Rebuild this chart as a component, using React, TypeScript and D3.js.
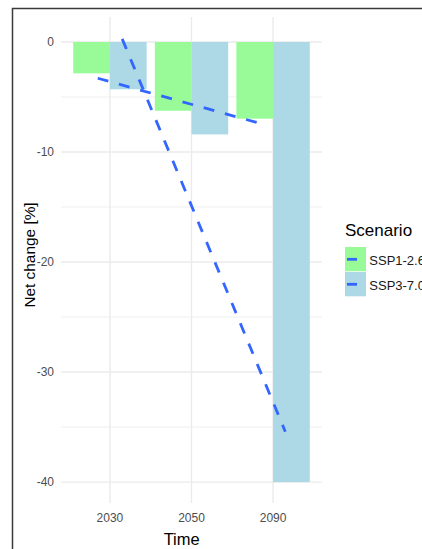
import React from "react";
import * as d3 from "d3";

const years = ["2030", "2050", "2090"];
const scenarios = ["SSP1-2.6", "SSP3-7.0"];
const ssp126 = [-2.85, -6.25, -6.97];
const ssp370 = [-4.3, -8.4, -40];
const majorTicks = [0, -10, -20, -30, -40];
const minorTicks = [-5, -15, -25, -35];
const fills = ["#98FB98", "#ADD8E6"];
const lineColor = "#3366FF";

const W = 422;
const H = 549;
const P = { left: 61, right: 322, top: 17, bottom: 503 };
const FONT = "'Liberation Sans', Arial, sans-serif";

function fit(vals: number[]) {
  const xs = vals.map((_, i) => i + 1);
  const mx = d3.mean(xs) as number;
  const my = d3.mean(vals) as number;
  const num = d3.sum(xs.map((x, i) => (x - mx) * (vals[i] - my)));
  const den = d3.sum(xs.map((x) => (x - mx) * (x - mx)));
  const b = num / den;
  const a = my - b * mx;
  return xs.map((x) => a + b * x);
}

export default function App() {
  const x = d3.scalePoint<string>().domain(years).range([P.left, P.right]).padding(0.6);
  const step = x.step();
  const y = d3.scaleLinear().domain([-41.9, 2.27]).range([P.bottom, P.top]);
  const series = [ssp126, ssp370];
  const bw = step * 0.45;
  const offs = [-0.15 * step, 0.15 * step];
  const line = d3
    .line<[number, number]>()
    .x((d) => d[0])
    .y((d) => d[1]);

  return (
    <svg
      width={W}
      height={H}
      style={{ position: "absolute", left: 0, top: 0, background: "#fff" }}
      fontFamily={FONT}
    >
      <rect x={0} y={0} width={W} height={H} fill="#fff" />
      {/* grid */}
      {minorTicks.map((t) => (
        <line key={"mn" + t} x1={P.left} x2={P.right} y1={y(t)} y2={y(t)} stroke="#EBEBEB" strokeWidth={0.8} />
      ))}
      {majorTicks.map((t) => (
        <line key={"mj" + t} x1={P.left} x2={P.right} y1={y(t)} y2={y(t)} stroke="#EBEBEB" strokeWidth={1.4} />
      ))}
      {years.map((yr) => (
        <line key={"v" + yr} x1={x(yr)} x2={x(yr)} y1={P.top} y2={P.bottom} stroke="#EBEBEB" strokeWidth={1.4} />
      ))}
      {/* bars */}
      {series.map((vals, si) =>
        vals.map((v, i) => {
          const cx = x(years[i]) as number;
          const x0 = si === 0 ? cx - bw : cx;
          return (
            <rect
              key={"b" + si + i}
              x={x0}
              y={y(Math.max(0, v))}
              width={bw}
              height={Math.abs(y(v) - y(0))}
              fill={fills[si]}
            />
          );
        })
      )}
      {/* fitted lines */}
      {series.map((vals, si) => {
        const f = fit(vals);
        const pts: [number, number][] = f.map((v, i) => [(x(years[i]) as number) + offs[si], y(v)]);
        return (
          <path
            key={"l" + si}
            d={line(pts) as string}
            fill="none"
            stroke={lineColor}
            strokeWidth={2.8}
            strokeDasharray="11,11"
          />
        );
      })}
      {/* y tick labels */}
      {majorTicks.map((t) => (
        <text key={"yt" + t} x={54} y={y(t) + 4.3} textAnchor="end" fontSize={12} fill="#4D4D4D">
          {t}
        </text>
      ))}
      {/* x tick labels */}
      {years.map((yr) => (
        <text key={"xt" + yr} x={x(yr)} y={521.7} textAnchor="middle" fontSize={12} fill="#4D4D4D">
          {yr}
        </text>
      ))}
      {/* axis titles */}
      <text x={181.7} y={545} textAnchor="middle" fontSize={16.5} fill="#000">
        Time
      </text>
      <text
        transform={`translate(34.5,255) rotate(-90)`}
        textAnchor="middle"
        fontSize={15.4}
        fill="#000"
      >
        Net change [%]
      </text>
      {/* legend */}
      <text x={345} y={236} fontSize={17} fill="#000">
        Scenario
      </text>
      {scenarios.map((s, i) => {
        const ky = 247 + i * 25;
        return (
          <g key={"lg" + s}>
            <rect x={345} y={ky} width={21} height={24.3} fill={fills[i]} />
            <line x1={347} x2={357} y1={ky + 12.3} y2={ky + 12.3} stroke={lineColor} strokeWidth={2.8} />
            <text x={369.3} y={ky + 17.5} fontSize={13} fill="#1A1A1A">
              {s}
            </text>
          </g>
        );
      })}
      {/* outer border */}
      <rect x={12.5} y={8.5} width={430} height={560} fill="none" stroke="#3a3a3a" strokeWidth={1.5} />
    </svg>
  );
}
